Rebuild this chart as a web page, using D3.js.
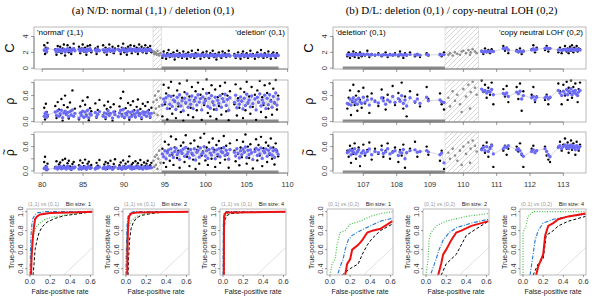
<!DOCTYPE html>
<html>
<head>
<meta charset="utf-8">
<script src="https://cdn.jsdelivr.net/npm/d3@7"></script>
<style>
  body { margin: 0; background: #fff; }
  svg { display: block; font-family: "Liberation Sans", Arial, sans-serif; }
</style>
</head>
<body>
<svg width="600" height="301"></svg>
<script>
// rows: [position (Mb), C raw, C smoothed, rho raw, rho smoothed, rhoTilde raw, rhoTilde smoothed]
var ndNormal = [
  [80.25, 2.9, 2.3, 0.32, 0.12, 0.22, 0.06], [80.35, 1.8, 2.2, 0.05, 0.18, 0.35, 0.08],
  [80.45, 2.6, 2.4, 0.41, 0.21, 0.12, 0.05], [80.55, 2.0, 2.1, 0.22, 0.10, 0.02, 0.10],
  [80.65, 3.2, 2.5, 0.12, 0.15, 0.18, 0.04], [81.6, 2.4, 2.3, 0.36, 0.22, 0.10, 0.07],
  [81.75, 1.7, 2.0, 0.08, 0.14, 0.24, 0.09], [81.9, 2.8, 2.4, 0.45, 0.25, 0.06, 0.05],
  [82.05, 2.1, 2.2, 0.28, 0.12, 0.16, 0.08], [82.2, 2.7, 2.35, 0.15, 0.18, 0.21, 0.11],
  [82.35, 1.9, 2.1, 0.52, 0.26, 0.05, 0.06], [82.5, 2.5, 2.25, 0.02, 0.09, 0.27, 0.10],
  [82.65, 3.0, 2.4, 0.38, 0.20, 0.13, 0.07], [82.8, 1.6, 2.05, 0.60, 0.24, 0.30, 0.09],
  [82.95, 2.3, 2.3, 0.19, 0.16, 0.08, 0.05], [83.1, 2.9, 2.45, 0.33, 0.21, 0.19, 0.12],
  [83.25, 2.0, 2.2, 0.07, 0.11, 0.25, 0.08], [83.4, 2.6, 2.3, 0.44, 0.23, 0.11, 0.06],
  [83.55, 1.8, 2.1, 0.25, 0.15, 0.03, 0.04], [83.7, 2.4, 2.35, 0.72, 0.27, 0.17, 0.09],
  [83.85, 3.1, 2.5, 0.13, 0.12, 0.22, 0.07], [84.0, 2.2, 2.2, 0.30, 0.19, 0.09, 0.10],
  [84.5, 2.7, 2.4, 0.05, 0.08, 0.14, 0.05], [84.65, 1.9, 2.15, 0.35, 0.20, 0.26, 0.11],
  [84.8, 2.5, 2.3, 0.21, 0.14, 0.04, 0.06], [84.95, 3.0, 2.45, 0.48, 0.24, 0.20, 0.08],
  [85.1, 2.1, 2.2, 0.10, 0.10, 0.12, 0.07], [85.25, 2.6, 2.35, 0.39, 0.22, 0.28, 0.10],
  [85.4, 1.7, 2.05, 0.16, 0.13, 0.07, 0.04], [85.55, 2.8, 2.4, 0.56, 0.26, 0.18, 0.09],
  [85.7, 2.3, 2.25, 0.03, 0.09, 0.23, 0.12], [85.85, 2.9, 2.45, 0.31, 0.18, 0.10, 0.06],
  [86.0, 2.0, 2.2, 0.24, 0.15, 0.15, 0.08], [86.5, 2.5, 2.3, 0.42, 0.21, 0.06, 0.05],
  [86.65, 1.8, 2.1, 0.09, 0.11, 0.20, 0.09], [86.8, 2.7, 2.4, 0.27, 0.17, 0.13, 0.07],
  [87.0, 2.2, 2.2, 0.50, 0.23, 0.27, 0.10], [87.45, 2.9, 2.35, 0.14, 0.12, 0.08, 0.06],
  [87.6, 2.0, 2.15, 0.37, 0.20, 0.16, 0.09], [87.75, 2.6, 2.3, 0.06, 0.10, 0.22, 0.05],
  [87.9, 1.7, 2.05, 0.29, 0.18, 0.05, 0.08], [88.05, 2.4, 2.3, 0.46, 0.25, 0.19, 0.11],
  [88.2, 3.0, 2.45, 0.18, 0.14, 0.11, 0.07], [88.35, 2.1, 2.2, 0.33, 0.19, 0.25, 0.09],
  [88.6, 2.7, 2.35, 0.02, 0.08, 0.09, 0.04], [88.75, 1.9, 2.1, 0.40, 0.22, 0.17, 0.08],
  [88.9, 2.5, 2.3, 0.23, 0.16, 0.29, 0.10], [89.3, 2.8, 2.4, 0.11, 0.11, 0.07, 0.06],
  [89.45, 2.2, 2.25, 0.35, 0.20, 0.14, 0.09], [89.6, 1.8, 2.1, 0.54, 0.26, 0.21, 0.07],
  [89.75, 2.6, 2.35, 0.17, 0.13, 0.04, 0.05], [89.9, 3.1, 2.5, 0.69, 0.28, 0.26, 0.11],
  [90.05, 2.0, 2.2, 0.08, 0.10, 0.12, 0.08], [90.2, 2.5, 2.3, 0.31, 0.19, 0.18, 0.06],
  [90.35, 1.7, 2.05, 0.20, 0.15, 0.08, 0.09], [90.5, 2.7, 2.4, 0.43, 0.23, 0.23, 0.10],
  [90.65, 2.3, 2.25, 0.04, 0.09, 0.36, 0.12], [90.8, 2.9, 2.45, 0.38, 0.21, 0.10, 0.07],
  [90.95, 1.9, 2.15, 0.15, 0.12, 0.16, 0.05], [91.1, 2.4, 2.3, 0.47, 0.24, 0.20, 0.09],
  [91.25, 2.8, 2.4, 0.26, 0.17, 0.06, 0.06], [91.4, 2.1, 2.2, 0.10, 0.11, 0.24, 0.10],
  [91.55, 2.6, 2.35, 0.34, 0.20, 0.13, 0.08], [91.7, 1.8, 2.1, 0.51, 0.25, 0.19, 0.11],
  [91.85, 3.0, 2.45, 0.19, 0.14, 0.09, 0.06], [92.0, 2.3, 2.25, 0.29, 0.18, 0.27, 0.09],
  [92.15, 2.7, 2.35, 0.06, 0.09, 0.15, 0.07], [92.3, 2.0, 2.15, 0.41, 0.22, 0.05, 0.05],
  [92.45, 2.5, 2.3, 0.22, 0.16, 0.21, 0.10], [92.6, 2.9, 2.4, 0.36, 0.21, 0.12, 0.08],
  [92.75, 1.9, 2.1, 0.13, 0.12, 0.18, 0.06], [92.9, 2.6, 2.35, 0.45, 0.24, 0.25, 0.11],
  [93.05, 2.2, 2.25, 0.27, 0.18, 0.08, 0.07], [93.2, 2.8, 2.4, 0.09, 0.11, 0.14, 0.09],
  [93.35, 2.0, 2.2, 0.32, 0.19, 0.20, 0.08]
];
var ndDeletion = [
  [94.7, 1.3, 1.55, 0.12, 0.38, 0.55, 0.42], [94.85, 2.1, 1.7, 0.85, 0.52, 0.20, 0.35],
  [95.0, 1.6, 1.6, 0.40, 0.45, 0.72, 0.50], [95.15, 1.2, 1.5, 0.65, 0.55, 0.10, 0.30],
  [95.3, 1.9, 1.65, 0.05, 0.30, 0.48, 0.45], [95.45, 2.3, 1.75, 0.78, 0.60, 0.65, 0.52],
  [95.6, 1.4, 1.55, 0.30, 0.40, 0.25, 0.38], [95.75, 1.8, 1.65, 0.92, 0.58, 0.85, 0.55],
  [95.9, 1.5, 1.6, 0.18, 0.35, 0.40, 0.44], [96.05, 2.0, 1.7, 0.60, 0.50, 0.15, 0.33],
  [96.2, 1.1, 1.5, 0.48, 0.46, 0.58, 0.48], [96.35, 1.7, 1.6, 0.08, 0.28, 0.78, 0.56],
  [96.5, 2.2, 1.75, 0.72, 0.56, 0.32, 0.40], [96.65, 1.4, 1.55, 0.35, 0.42, 0.50, 0.46],
  [96.8, 1.9, 1.68, 0.88, 0.62, 0.08, 0.28], [96.95, 1.6, 1.6, 0.22, 0.36, 0.62, 0.50],
  [97.1, 1.3, 1.52, 0.55, 0.48, 0.45, 0.43], [97.25, 2.1, 1.72, 0.02, 0.25, 0.70, 0.54],
  [97.4, 1.5, 1.58, 0.68, 0.54, 0.22, 0.36], [97.55, 1.8, 1.66, 0.42, 0.44, 0.88, 0.58],
  [97.7, 1.2, 1.5, 0.95, 0.64, 0.35, 0.41], [97.85, 2.0, 1.7, 0.15, 0.33, 0.55, 0.47],
  [98.0, 1.6, 1.6, 0.58, 0.50, 0.12, 0.32], [98.15, 1.4, 1.55, 0.32, 0.40, 0.68, 0.53],
  [98.3, 2.2, 1.74, 0.80, 0.59, 0.42, 0.44], [98.45, 1.7, 1.62, 0.10, 0.30, 0.28, 0.39],
  [98.6, 1.3, 1.52, 0.50, 0.47, 0.75, 0.55], [98.75, 1.9, 1.68, 0.70, 0.55, 0.05, 0.27],
  [98.9, 1.5, 1.58, 0.26, 0.38, 0.52, 0.46], [99.05, 2.3, 1.76, 0.90, 0.62, 0.60, 0.51],
  [99.2, 1.6, 1.6, 0.45, 0.45, 0.18, 0.34], [99.35, 1.2, 1.5, 0.62, 0.53, 0.82, 0.57],
  [99.5, 1.8, 1.65, 0.04, 0.27, 0.38, 0.42], [99.65, 2.0, 1.7, 0.75, 0.57, 0.48, 0.45],
  [99.8, 1.4, 1.55, 0.38, 0.43, 0.92, 0.60], [99.95, 1.7, 1.63, 0.52, 0.48, 0.26, 0.37],
  [100.1, 2.1, 1.72, 0.97, 0.65, 0.58, 0.50], [100.25, 1.5, 1.57, 0.20, 0.35, 0.15, 0.31],
  [100.4, 1.3, 1.52, 0.66, 0.54, 0.70, 0.53], [100.55, 1.9, 1.67, 0.12, 0.31, 0.44, 0.44],
  [100.7, 1.6, 1.6, 0.84, 0.60, 0.30, 0.39], [100.85, 2.2, 1.74, 0.44, 0.46, 0.80, 0.56],
  [101.0, 1.4, 1.54, 0.28, 0.38, 0.52, 0.47], [101.15, 1.8, 1.65, 0.74, 0.56, 0.10, 0.30],
  [101.3, 1.1, 1.48, 0.06, 0.28, 0.64, 0.52], [101.45, 1.7, 1.62, 0.56, 0.49, 0.36, 0.41],
  [101.6, 2.0, 1.7, 0.36, 0.42, 0.74, 0.55], [101.75, 1.5, 1.57, 0.82, 0.60, 0.20, 0.35],
  [101.9, 1.3, 1.52, 0.16, 0.33, 0.56, 0.48], [102.05, 2.1, 1.72, 0.64, 0.53, 0.46, 0.45],
  [102.2, 1.6, 1.6, 0.46, 0.46, 0.86, 0.58], [102.35, 1.9, 1.67, 0.90, 0.63, 0.28, 0.38],
  [102.5, 1.4, 1.55, 0.24, 0.37, 0.62, 0.51], [102.65, 1.7, 1.62, 0.60, 0.51, 0.40, 0.43],
  [102.8, 2.2, 1.74, 0.03, 0.26, 0.08, 0.29], [102.95, 1.5, 1.58, 0.70, 0.55, 0.68, 0.53],
  [103.5, 1.8, 1.6, 0.40, 0.44, 0.50, 0.46], [103.65, 1.3, 1.5, 0.86, 0.61, 0.24, 0.37],
  [103.8, 1.6, 1.58, 0.14, 0.32, 0.76, 0.55], [103.95, 2.0, 1.66, 0.54, 0.49, 0.42, 0.44],
  [104.1, 1.5, 1.55, 0.32, 0.40, 0.14, 0.32], [104.25, 1.2, 1.5, 0.76, 0.57, 0.58, 0.50],
  [104.4, 1.8, 1.62, 0.48, 0.47, 0.34, 0.40], [104.55, 2.1, 1.7, 0.08, 0.29, 0.72, 0.54],
  [104.7, 1.4, 1.54, 0.68, 0.54, 0.48, 0.46], [104.85, 1.7, 1.6, 0.26, 0.37, 0.90, 0.59],
  [105.0, 1.9, 1.66, 0.92, 0.63, 0.18, 0.33], [105.15, 1.3, 1.52, 0.42, 0.44, 0.60, 0.51],
  [105.3, 1.6, 1.58, 0.58, 0.50, 0.32, 0.40], [105.45, 2.2, 1.73, 0.18, 0.34, 0.66, 0.52],
  [105.6, 1.5, 1.56, 0.80, 0.59, 0.44, 0.45], [105.75, 1.8, 1.64, 0.34, 0.41, 0.06, 0.28],
  [106.0, 1.2, 1.5, 0.62, 0.52, 0.54, 0.48], [106.15, 1.7, 1.62, 0.04, 0.27, 0.78, 0.56],
  [106.3, 2.0, 1.7, 0.72, 0.56, 0.26, 0.38], [106.45, 1.4, 1.54, 0.44, 0.45, 0.64, 0.52],
  [106.6, 1.6, 1.6, 0.94, 0.64, 0.38, 0.42], [106.75, 2.3, 1.76, 0.22, 0.36, 0.84, 0.57],
  [106.9, 1.5, 1.57, 0.56, 0.50, 0.12, 0.31], [107.05, 1.3, 1.52, 0.38, 0.43, 0.56, 0.49],
  [107.2, 1.9, 1.67, 0.84, 0.61, 0.46, 0.45], [107.35, 1.7, 1.62, 0.10, 0.30, 0.70, 0.54],
  [107.5, 1.4, 1.55, 0.66, 0.54, 0.22, 0.36], [107.65, 2.1, 1.72, 0.30, 0.39, 0.62, 0.51],
  [107.8, 1.6, 1.6, 0.88, 0.62, 0.40, 0.43], [107.95, 1.2, 1.5, 0.50, 0.47, 0.80, 0.57],
  [108.1, 1.8, 1.65, 0.16, 0.33, 0.30, 0.39], [108.25, 2.0, 1.7, 0.76, 0.58, 0.58, 0.50],
  [108.4, 1.5, 1.57, 0.42, 0.44, 0.16, 0.33], [108.55, 1.3, 1.52, 0.96, 0.66, 0.68, 0.53],
  [108.7, 1.9, 1.68, 0.28, 0.38, 0.50, 0.47], [108.85, 1.6, 1.6, 0.60, 0.52, 0.36, 0.41]
];
// transition region rows: [position, C, rho, rhoTilde]
var ndMiddle = [
  [93.6, 2.1, 0.45, 0.25], [93.7, 1.8, 0.20, 0.10], [93.8, 2.0, 0.60, 0.35],
  [93.9, 1.9, 0.30, 0.15], [94.0, 1.7, 0.50, 0.40], [94.1, 2.2, 0.15, 0.05],
  [94.2, 1.8, 0.70, 0.30], [94.3, 1.6, 0.35, 0.50], [94.45, 1.9, 0.55, 0.20]
];

var dlDeletion = [
  [106.52, 1.5, 1.7, 0.30, 0.42, 0.50, 0.45], [106.56, 2.0, 1.72, 0.55, 0.40, 0.35, 0.48],
  [106.6, 1.3, 1.65, 0.72, 0.52, 0.62, 0.52], [106.63, 1.8, 1.75, 0.15, 0.38, 0.20, 0.40],
  [106.67, 1.6, 1.7, 0.45, 0.48, 0.55, 0.50], [106.7, 2.1, 1.78, 0.85, 0.55, 0.42, 0.46],
  [106.74, 1.4, 1.68, 0.38, 0.44, 0.68, 0.55], [106.78, 1.9, 1.74, 0.60, 0.50, 0.30, 0.42],
  [106.82, 1.7, 1.7, 0.25, 0.40, 0.48, 0.47], [106.86, 1.3, 1.66, 0.70, 0.54, 0.58, 0.52],
  [106.9, 2.0, 1.76, 0.50, 0.46, 0.12, 0.36], [106.95, 1.5, 1.7, 0.32, 0.42, 0.45, 0.44],
  [107.0, 1.8, 1.72, 0.78, 0.56, 0.65, 0.50], [107.05, 1.6, 1.68, 0.42, 0.45, 0.38, 0.43],
  [107.12, 2.2, 1.8, 0.58, 0.50, 0.52, 0.48], [107.18, 1.4, 1.66, 0.20, 0.38, 0.70, 0.54],
  [107.25, 1.8, 1.7, 0.65, 0.52, 0.28, 0.40], [107.35, 1.6, 1.66, 0.48, 0.46, 0.55, 0.48],
  [107.45, 1.9, 1.72, 0.36, 0.43, 0.42, 0.45], [107.55, 1.5, 1.64, 0.74, 0.55, 0.62, 0.52],
  [107.6, 1.7, 1.68, 0.55, 0.48, 0.35, 0.43], [107.67, 2.0, 1.72, 0.28, 0.40, 0.50, 0.47],
  [107.73, 1.4, 1.62, 0.62, 0.50, 0.68, 0.55], [107.8, 1.8, 1.7, 0.45, 0.46, 0.30, 0.42],
  [107.88, 1.6, 1.66, 0.82, 0.58, 0.48, 0.46], [107.95, 1.9, 1.7, 0.38, 0.44, 0.58, 0.50],
  [108.05, 1.5, 1.64, 0.66, 0.53, 0.22, 0.38], [108.1, 2.1, 1.74, 0.50, 0.47, 0.52, 0.47],
  [108.15, 1.7, 1.68, 0.90, 0.60, 0.38, 0.44], [108.2, 1.3, 1.62, 0.30, 0.42, 0.65, 0.53],
  [108.25, 1.9, 1.72, 0.58, 0.50, 0.08, 0.30], [108.3, 1.6, 1.66, 0.12, 0.36, 0.45, 0.45],
  [108.4, 2.0, 1.74, 0.70, 0.55, 0.55, 0.50], [108.55, 1.5, 1.66, 0.44, 0.46, 0.72, 0.52],
  [108.62, 1.8, 1.7, 0.62, 0.52, 0.35, 0.46], [108.7, 1.4, 1.64, 0.35, 0.42, 0.48, 0.48],
  [108.9, 1.9, 1.72, 0.80, 0.56, 0.60, 0.50], [108.95, 1.6, 1.68, 0.52, 0.48, 0.40, 0.47],
  [109.3, 1.8, 1.7, 0.65, 0.50, 0.25, 0.40], [109.35, 1.5, 1.66, 0.40, 0.46, 0.50, 0.44],
  [109.42, 2.0, 1.72, 0.28, 0.44, 0.05, 0.20]
];
var dlMiddle = [
  [109.55, 1.7, 0.55, 0.45], [109.6, 1.9, 0.35, 0.30], [109.68, 1.6, 0.70, 0.55],
  [109.75, 2.0, 0.48, 0.38], [109.82, 1.8, 0.62, 0.25], [109.9, 1.7, 0.40, 0.50],
  [109.95, 2.1, 0.22, 0.15], [110.0, 2.2, 0.75, 0.60], [110.08, 1.9, 0.58, 0.42],
  [110.15, 2.3, 0.85, 0.70], [110.2, 1.7, 0.30, 0.20], [110.22, 2.0, 0.68, 0.55],
  [110.28, 2.4, 0.92, 0.75], [110.35, 2.1, 0.78, 0.62], [110.4, 1.9, 0.62, 0.48]
];
var dlLoh = [
  [110.55, 2.2, 2.1, 0.95, 0.75, 0.55, 0.52], [110.6, 1.8, 2.05, 0.68, 0.70, 0.62, 0.58],
  [110.65, 2.5, 2.15, 0.85, 0.72, 0.45, 0.50], [110.7, 2.0, 2.1, 0.55, 0.66, 0.70, 0.60],
  [110.75, 2.3, 2.12, 0.78, 0.70, 0.35, 0.48], [110.8, 1.9, 2.08, 0.62, 0.68, 0.58, 0.55],
  [110.85, 2.4, 2.15, 0.90, 0.74, 0.65, 0.62], [110.9, 2.1, 2.1, 0.40, 0.62, 0.10, 0.42],
  [111.2, 2.8, 2.5, 0.75, 0.65, 0.50, 0.55], [111.25, 2.2, 2.45, 0.58, 0.62, 0.62, 0.60],
  [111.3, 2.6, 2.55, 0.82, 0.66, 0.40, 0.58], [111.35, 1.9, 2.3, 0.45, 0.58, 0.55, 0.62],
  [111.6, 2.3, 2.15, 0.80, 0.68, 0.60, 0.52], [111.65, 2.0, 2.1, 0.52, 0.64, 0.48, 0.55],
  [111.7, 2.5, 2.2, 0.88, 0.70, 0.68, 0.50], [111.75, 1.8, 2.05, 0.25, 0.52, 0.40, 0.42],
  [111.8, 2.2, 2.1, 0.70, 0.60, 0.10, 0.36], [112.05, 2.4, 2.3, 0.62, 0.55, 0.55, 0.48],
  [112.1, 2.9, 2.45, 0.80, 0.58, 0.62, 0.52], [112.15, 2.0, 2.25, 0.45, 0.50, 0.45, 0.45],
  [112.2, 2.6, 2.4, 0.58, 0.56, 0.50, 0.50], [112.45, 2.3, 2.5, 0.50, 0.55, 0.60, 0.55],
  [112.5, 2.8, 2.55, 0.62, 0.58, 0.38, 0.48], [112.55, 2.1, 2.45, 0.40, 0.52, 0.28, 0.40],
  [112.6, 2.5, 2.5, 0.55, 0.56, 0.22, 0.35], [112.85, 2.0, 2.3, 0.88, 0.72, 0.60, 0.58],
  [112.9, 2.6, 2.35, 0.70, 0.66, 0.72, 0.62], [112.95, 1.9, 2.25, 0.40, 0.60, 0.50, 0.55],
  [113.0, 2.4, 2.3, 0.85, 0.70, 0.65, 0.60], [113.05, 2.8, 2.4, 0.60, 0.64, 0.80, 0.64],
  [113.1, 2.1, 2.28, 0.92, 0.74, 0.55, 0.58], [113.13, 2.5, 2.35, 0.50, 0.62, 0.70, 0.62],
  [113.16, 1.9, 2.2, 0.78, 0.70, 0.45, 0.55], [113.2, 2.7, 2.4, 0.66, 0.68, 0.62, 0.60],
  [113.23, 2.2, 2.3, 0.95, 0.76, 0.75, 0.64], [113.26, 2.9, 2.45, 0.55, 0.62, 0.52, 0.57],
  [113.3, 2.0, 2.25, 0.80, 0.70, 0.68, 0.62], [113.33, 2.6, 2.38, 0.70, 0.66, 0.58, 0.58],
  [113.36, 2.3, 2.32, 0.88, 0.72, 0.40, 0.52], [113.4, 2.8, 2.42, 0.62, 0.64, 0.72, 0.62],
  [113.43, 2.1, 2.28, 0.45, 0.60, 0.60, 0.58], [113.46, 2.5, 2.35, 0.75, 0.68, 0.50, 0.55],
  [113.5, 2.4, 2.3, 0.90, 0.72, 0.65, 0.60]
];

// ROC curves: [false-positive rate, true-positive rate]
var rocND1 = {
  black: [[0.03,0.33],[0.04,0.45],[0.05,0.6],[0.07,0.7],[0.09,0.78],[0.12,0.84],[0.17,0.89],[0.25,0.93],[0.35,0.96],[0.5,0.98],[0.62,1.0]],
  green: [[0.0,0.33],[0.01,0.55],[0.02,0.68],[0.04,0.78],[0.06,0.84],[0.1,0.88],[0.15,0.92],[0.25,0.95],[0.4,0.97],[0.5,0.99],[0.62,1.0]],
  blue:  [[0.0,0.33],[0.005,0.6],[0.01,0.75],[0.02,0.88],[0.03,0.93],[0.05,0.97],[0.08,0.99],[0.15,1.0],[0.62,1.0]],
  red:   [[0.01,0.33],[0.015,0.5],[0.02,0.6],[0.03,0.75],[0.04,0.85],[0.05,0.92],[0.07,0.95],[0.1,0.97],[0.2,0.985],[0.4,0.99],[0.62,1.0]]
};
var rocND2 = {
  black: [[0.02,0.33],[0.025,0.5],[0.035,0.7],[0.05,0.82],[0.07,0.88],[0.1,0.93],[0.15,0.96],[0.25,0.98],[0.4,1.0],[0.62,1.0]],
  green: [[0.0,0.33],[0.005,0.6],[0.01,0.75],[0.03,0.85],[0.05,0.9],[0.1,0.95],[0.2,0.98],[0.35,1.0],[0.62,1.0]],
  blue:  [[0.0,0.33],[0.005,0.7],[0.01,0.85],[0.02,0.95],[0.04,0.99],[0.08,1.0],[0.62,1.0]],
  red:   [[0.012,0.33],[0.015,0.6],[0.02,0.85],[0.03,0.95],[0.05,0.98],[0.1,0.99],[0.62,1.0]]
};
var rocND4 = {
  black: [[0.01,0.33],[0.012,0.8],[0.02,0.92],[0.04,0.96],[0.08,0.98],[0.2,0.99],[0.62,1.0]],
  green: [[0.005,0.33],[0.008,0.85],[0.015,0.93],[0.03,0.97],[0.06,0.99],[0.62,1.0]],
  blue:  [[0.0,0.33],[0.003,0.9],[0.01,0.98],[0.03,1.0],[0.62,1.0]],
  red:   [[0.008,0.33],[0.01,0.9],[0.015,0.97],[0.03,0.99],[0.62,1.0]]
};
var rocDL1 = {
  black: [[0.12,0.33],[0.15,0.36],[0.2,0.4],[0.28,0.45],[0.32,0.55],[0.37,0.65],[0.42,0.72],[0.5,0.8],[0.62,0.87]],
  green: [[0.0,0.33],[0.02,0.45],[0.05,0.5],[0.07,0.65],[0.1,0.78],[0.15,0.8],[0.2,0.87],[0.3,0.9],[0.4,0.95],[0.5,0.98],[0.62,1.0]],
  blue:  [[0.08,0.35],[0.1,0.42],[0.13,0.5],[0.15,0.6],[0.18,0.7],[0.22,0.75],[0.3,0.8],[0.4,0.85],[0.5,0.9],[0.62,0.93]],
  red:   [[0.15,0.33],[0.17,0.45],[0.2,0.5],[0.22,0.6],[0.28,0.65],[0.32,0.7],[0.37,0.78],[0.42,0.8],[0.5,0.82],[0.62,0.9]]
};
var rocDL2 = {
  black: [[0.15,0.33],[0.2,0.45],[0.25,0.5],[0.3,0.55],[0.35,0.65],[0.4,0.75],[0.5,0.82],[0.62,0.9]],
  green: [[0.0,0.33],[0.02,0.5],[0.03,0.7],[0.05,0.78],[0.1,0.85],[0.2,0.9],[0.4,0.95],[0.62,0.98]],
  blue:  [[0.05,0.35],[0.1,0.5],[0.13,0.6],[0.17,0.7],[0.23,0.78],[0.3,0.83],[0.45,0.88],[0.62,0.92]],
  red:   [[0.12,0.33],[0.15,0.45],[0.17,0.55],[0.2,0.6],[0.25,0.7],[0.3,0.78],[0.35,0.8],[0.45,0.85],[0.62,0.9]]
};
var rocDL4 = {
  black: [[0.1,0.33],[0.15,0.45],[0.2,0.5],[0.23,0.75],[0.3,0.8],[0.35,0.85],[0.45,0.9],[0.62,0.95]],
  green: [[0.0,0.33],[0.0,0.78],[0.03,0.85],[0.05,0.95],[0.1,1.0],[0.62,1.0]],
  blue:  [[0.07,0.33],[0.1,0.55],[0.12,0.7],[0.15,0.8],[0.2,0.88],[0.3,0.92],[0.45,0.95],[0.62,0.97]],
  red:   [[0.13,0.33],[0.15,0.42],[0.2,0.55],[0.22,0.75],[0.25,0.85],[0.3,0.88],[0.35,0.92],[0.45,0.95],[0.62,0.98]]
};

var svg = d3.select('svg');
var defs = svg.append('defs');
defs.append('pattern')
  .attr('id', 'hatch')
  .attr('patternUnits', 'userSpaceOnUse')
  .attr('width', 5).attr('height', 5)
  .append('path')
  .attr('d', 'M-1,1 l2,-2 M0,5 l5,-5 M4,6 l2,-2')
  .attr('stroke', '#c4c4c4').attr('stroke-width', 0.7);

var boxColor = '#a8a8a8';
var blueCol = '#6b6bf7';

var panels = [
  { label: 'C', top: 27, bottom: 69, domain: [-0.1, 5.2], ticks: [0, 2, 4], shown: [0, 2, 4], fmt: d3.format('d') },
  { label: 'ρ', top: 80, bottom: 122, domain: [-0.01, 0.96], ticks: [0, 0.3, 0.6, 0.9], shown: [0, 0.6], fmt: d3.format('.1f') },
  { label: 'ρ', tilde: true, top: 132, bottom: 173, domain: [-0.05, 0.96], ticks: [0, 0.3, 0.6, 0.9], shown: [0, 0.6], fmt: d3.format('.1f') }
];

function trackChart(cfg) {
  var x = d3.scaleLinear().domain(cfg.domain).range([cfg.left, cfg.right]);
  var g = svg.append('g');

  g.append('text')
    .attr('x', (cfg.left + cfg.right) / 2 - 8).attr('y', 14)
    .attr('text-anchor', 'middle')
    .style('font-family', '"Liberation Serif", "DejaVu Serif", serif')
    .style('font-size', '11px')
    .text(cfg.title);

  panels.forEach(function (p, k) {
    var y = d3.scaleLinear().domain(p.domain).range([p.bottom, p.top]);

    g.append('rect')
      .attr('x', x(cfg.hatch[0])).attr('y', p.top)
      .attr('width', x(cfg.hatch[1]) - x(cfg.hatch[0])).attr('height', p.bottom - p.top)
      .attr('fill', 'url(#hatch)').attr('stroke', '#cfcfcf').attr('stroke-width', 0.6);

    // region bar for the deletion
    g.append('line')
      .attr('x1', x(cfg.bar[0])).attr('x2', x(cfg.bar[1]))
      .attr('y1', p.bottom - 1).attr('y2', p.bottom - 1)
      .attr('stroke', '#8a8a8a').attr('stroke-width', 3);

    cfg.segments.forEach(function (seg) {
      g.append('g').selectAll('circle')
        .data(seg).enter().append('circle')
        .attr('cx', function (d) { return x(d[0]); })
        .attr('cy', function (d) { return y(d[1 + 2 * k]); })
        .attr('r', 1.2).attr('fill', '#000');
    });
    cfg.segments.forEach(function (seg) {
      g.append('path')
        .datum(seg)
        .attr('fill', 'none').attr('stroke', '#b0b0b0').attr('stroke-width', 0.5)
        .attr('d', d3.line().x(function (d) { return x(d[0]); }).y(function (d) { return y(d[2 + 2 * k]); }));
      g.append('g').selectAll('circle')
        .data(seg).enter().append('circle')
        .attr('cx', function (d) { return x(d[0]); })
        .attr('cy', function (d) { return y(d[2 + 2 * k]); })
        .attr('r', 1.7).attr('fill', blueCol);
    });
    g.append('g').selectAll('circle')
      .data(cfg.middle).enter().append('circle')
      .attr('cx', function (d) { return x(d[0]); })
      .attr('cy', function (d) { return y(d[1 + k]); })
      .attr('r', 1.3).attr('fill', '#8e8e8e');

    g.append('rect')
      .attr('x', cfg.left).attr('y', p.top)
      .attr('width', cfg.right - cfg.left).attr('height', p.bottom - p.top)
      .attr('fill', 'none').attr('stroke', boxColor).attr('stroke-width', 0.8);

    // y axis
    var ya = g.append('g').attr('transform', 'translate(' + cfg.left + ',0)');
    ya.append('line')
      .attr('y1', y(p.ticks[0])).attr('y2', y(p.ticks[p.ticks.length - 1]))
      .attr('stroke', '#555').attr('stroke-width', 0.6);
    ya.selectAll('.tk').data(p.ticks).enter().append('line')
      .attr('x1', 0).attr('x2', -3)
      .attr('y1', function (d) { return y(d); }).attr('y2', function (d) { return y(d); })
      .attr('stroke', '#555').attr('stroke-width', 0.6);
    ya.selectAll('text').data(p.shown).enter().append('text')
      .attr('transform', function (d) { return 'translate(-6,' + y(d) + ') rotate(-90)'; })
      .attr('text-anchor', 'middle')
      .style('font-size', '7.5px').attr('fill', '#333')
      .text(p.fmt);

    var lab = g.append('g')
      .attr('transform', 'translate(' + (cfg.left - 20) + ',' + ((p.top + p.bottom) / 2) + ') rotate(-90)');
    lab.append('text')
      .attr('text-anchor', 'middle')
      .style('font-size', k === 0 ? '13px' : '12px')
      .text(p.label);
    if (p.tilde) {
      lab.append('text')
        .attr('x', 0.5).attr('y', -6)
        .attr('text-anchor', 'middle')
        .style('font-size', '10px')
        .text('~');
    }

    // x axis
    var xa = g.append('g').attr('transform', 'translate(0,' + p.bottom + ')');
    xa.append('line')
      .attr('x1', x(cfg.ticks[0])).attr('x2', x(cfg.ticks[cfg.ticks.length - 1]))
      .attr('stroke', '#555').attr('stroke-width', 0.6);
    xa.selectAll('.tk').data(cfg.ticks).enter().append('line')
      .attr('x1', function (d) { return x(d); }).attr('x2', function (d) { return x(d); })
      .attr('y1', 0).attr('y2', 3)
      .attr('stroke', '#555').attr('stroke-width', 0.6);
    if (k === 2) {
      xa.selectAll('text').data(cfg.ticks).enter().append('text')
        .attr('x', function (d) { return x(d); }).attr('y', 14)
        .attr('text-anchor', 'middle')
        .style('font-size', '7.5px').attr('fill', '#333')
        .text(function (d) { return d; });
    }
  });

  g.append('text')
    .attr('x', cfg.left + 3).attr('y', 35)
    .style('font-size', '8px')
    .text(cfg.leftNote);
  g.append('text')
    .attr('x', cfg.right - 3).attr('y', 35)
    .attr('text-anchor', 'end')
    .style('font-size', '8px')
    .text(cfg.rightNote);
}

trackChart({
  title: '(a) N/D: normal (1,1) / deletion (0,1)',
  left: 34, right: 288, domain: [79.0, 110.05],
  ticks: [80, 85, 90, 95, 100, 105, 110],
  hatch: [93.55, 94.55], bar: [94.6, 108.9],
  segments: [ndNormal, ndDeletion], middle: ndMiddle,
  leftNote: "'normal' (1,1)", rightNote: "'deletion' (0,1)"
});
trackChart({
  title: '(b) D/L: deletion (0,1) / copy-neutral LOH (0,2)',
  left: 333, right: 586, domain: [106.09, 113.68],
  ticks: [107, 108, 109, 110, 111, 112, 113],
  hatch: [109.45, 110.45], bar: [106.38, 109.45],
  segments: [dlDeletion, dlLoh], middle: dlMiddle,
  leftNote: "'deletion' (0,1)", rightNote: "'copy neutral LOH' (0,2)"
});

var rocStyle = {
  black: { color: '#000', width: 1, dash: '3,2' },
  green: { color: '#44c044', width: 1.2, dash: '1,1.6' },
  blue:  { color: '#1f78d0', width: 1.1, dash: '4,1.5,1,1.5' },
  red:   { color: '#ee1111', width: 2, dash: null }
};

function rocPanel(left, curves, caption, bin, id) {
  var top = 209, bottom = 275, right = left + 66;
  var x = d3.scaleLinear().domain([-0.03, 0.625]).range([left, right]);
  var y = d3.scaleLinear().domain([0.333, 1.028]).range([bottom, top]);
  var g = svg.append('g');

  defs.append('clipPath').attr('id', id)
    .append('rect').attr('x', left).attr('y', top).attr('width', right - left).attr('height', bottom - top);

  var plot = g.append('g').attr('clip-path', 'url(#' + id + ')');
  plot.append('line')
    .attr('x1', x(0.333)).attr('y1', y(0.333)).attr('x2', x(0.625)).attr('y2', y(0.625))
    .attr('stroke', '#cfcfcf').attr('stroke-width', 0.6);
  ['black', 'green', 'blue', 'red'].forEach(function (key) {
    var s = rocStyle[key];
    plot.append('path')
      .datum(curves[key])
      .attr('fill', 'none')
      .attr('stroke', s.color).attr('stroke-width', s.width)
      .attr('stroke-dasharray', s.dash)
      .attr('d', d3.line().x(function (d) { return x(d[0]); }).y(function (d) { return y(d[1]); }));
  });

  g.append('rect')
    .attr('x', left).attr('y', top).attr('width', right - left).attr('height', bottom - top)
    .attr('fill', 'none').attr('stroke', boxColor).attr('stroke-width', 0.8);

  var xt = [0, 0.2, 0.4, 0.6], yt = [0.4, 0.6, 0.8, 1.0];
  g.selectAll('.xt').data(xt).enter().append('line')
    .attr('x1', function (d) { return x(d); }).attr('x2', function (d) { return x(d); })
    .attr('y1', bottom).attr('y2', bottom + 2)
    .attr('stroke', '#555').attr('stroke-width', 0.6);
  g.selectAll('.xl').data(xt).enter().append('text')
    .attr('x', function (d) { return x(d); }).attr('y', bottom + 9)
    .attr('text-anchor', 'middle')
    .style('font-size', '7.5px').attr('fill', '#333')
    .text(d3.format('.1f'));
  g.selectAll('.yt').data(yt).enter().append('line')
    .attr('x1', left).attr('x2', left - 2)
    .attr('y1', function (d) { return y(d); }).attr('y2', function (d) { return y(d); })
    .attr('stroke', '#555').attr('stroke-width', 0.6);
  g.selectAll('.yl').data(yt).enter().append('text')
    .attr('transform', function (d) { return 'translate(' + (left - 4) + ',' + y(d) + ') rotate(-90)'; })
    .attr('text-anchor', 'middle')
    .style('font-size', '7.5px').attr('fill', '#333')
    .text(d3.format('.1f'));

  g.append('text')
    .attr('x', (left + right) / 2).attr('y', bottom + 19)
    .attr('text-anchor', 'middle')
    .style('font-size', '7px').attr('fill', '#222')
    .text('False-positive rate');
  g.append('text')
    .attr('transform', 'translate(' + (left - 13) + ',' + ((top + bottom) / 2) + ') rotate(-90)')
    .attr('text-anchor', 'middle')
    .style('font-size', '7px').attr('fill', '#222')
    .text('True-positive rate');

  g.append('text')
    .attr('x', left + 1).attr('y', top - 3)
    .style('font-size', '5.5px').attr('fill', '#9a9a9a')
    .text(caption);
  g.append('text')
    .attr('x', right - 2).attr('y', top - 3)
    .attr('text-anchor', 'end')
    .style('font-size', '5.5px').attr('fill', '#222')
    .text('Bin size: ' + bin);
}

rocPanel(27, rocND1, '(1,1) vs (0,1)', 1, 'c1');
rocPanel(123, rocND2, '(1,1) vs (0,1)', 2, 'c2');
rocPanel(220, rocND4, '(1,1) vs (0,1)', 4, 'c3');
rocPanel(327, rocDL1, '(0,1) vs (0,2)', 1, 'c4');
rocPanel(423, rocDL2, '(0,1) vs (0,2)', 2, 'c5');
rocPanel(520, rocDL4, '(0,1) vs (0,2)', 4, 'c6');
</script>
</body>
</html>
